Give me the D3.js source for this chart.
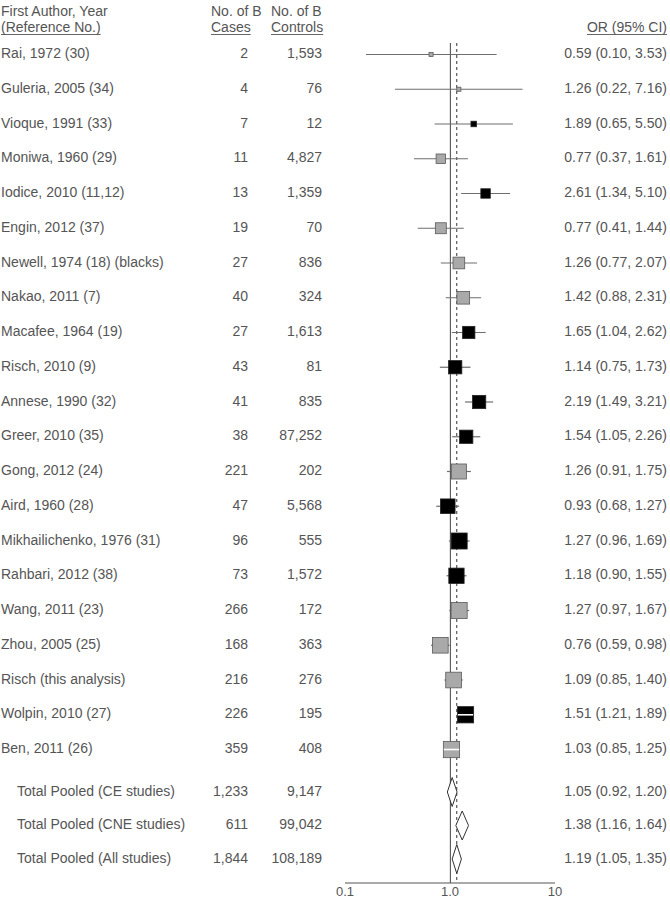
<!DOCTYPE html>
<html><head><meta charset="utf-8">
<script src="https://cdn.jsdelivr.net/npm/d3@7"></script>
<style>body{margin:0;background:#fff}svg{display:block}text{font-family:"Liberation Sans",Arial,sans-serif}</style>
</head><body>
<svg id="c" width="670" height="899"></svg>
<script>
const studies = ["Rai, 1972 (30)","Guleria, 2005 (34)","Vioque, 1991 (33)","Moniwa, 1960 (29)","Iodice, 2010 (11,12)","Engin, 2012 (37)","Newell, 1974 (18) (blacks)","Nakao, 2011 (7)","Macafee, 1964 (19)","Risch, 2010 (9)","Annese, 1990 (32)","Greer, 2010 (35)","Gong, 2012 (24)","Aird, 1960 (28)","Mikhailichenko, 1976 (31)","Rahbari, 2012 (38)","Wang, 2011 (23)","Zhou, 2005 (25)","Risch (this analysis)","Wolpin, 2010 (27)","Ben, 2011 (26)"];
const cases = ["2","4","7","11","13","19","27","40","27","43","41","38","221","47","96","73","266","168","216","226","359"];
const controls = ["1,593","76","12","4,827","1,359","70","836","324","1,613","81","835","87,252","202","5,568","555","1,572","172","363","276","195","408"];
const orVals = [0.59,1.26,1.89,0.77,2.61,0.77,1.26,1.42,1.65,1.14,2.19,1.54,1.26,0.93,1.27,1.18,1.27,0.76,1.09,1.51,1.03];
const ciLow  = [0.10,0.22,0.65,0.37,1.34,0.41,0.77,0.88,1.04,0.75,1.49,1.05,0.91,0.68,0.96,0.90,0.97,0.59,0.85,1.21,0.85];
const ciHigh = [3.53,7.16,5.50,1.61,5.10,1.44,2.07,2.31,2.62,1.73,3.21,2.26,1.75,1.27,1.69,1.55,1.67,0.98,1.40,1.89,1.25];
const studyType = ["CE","CE","CNE","CE","CNE","CE","CE","CE","CNE","CNE","CNE","CNE","CE","CNE","CNE","CNE","CE","CE","CE","CNE","CE"];
const weights = [6,6,11,32,32,43,49,58,54,63,63,63,81,77,92,84,92,88,88,95,95];
const splitRows = ["Wolpin, 2010 (27)","Ben, 2011 (26)"];

const pooledLabels = ["Total Pooled (CE studies)","Total Pooled (CNE studies)","Total Pooled (All studies)"];
const pooledCases = ["1,233","611","1,844"];
const pooledControls = ["9,147","99,042","108,189"];
const pooledOR = [1.05,1.38,1.19];
const pooledLow = [0.92,1.16,1.05];
const pooledHigh = [1.20,1.64,1.35];
const overallOR = 1.19;

const axisTickLabels = ["0.1","1.0","10"];
const fmt = d3.format(".2f");

const svg = d3.select("#c");
const txt = "#555555";
const fs = 14;

const x = d3.scaleLog().domain([0.0564, 17.35]).range([345, 555]);
const y = d3.scaleBand().domain(studies).range([37.1, 766.9]);
const yc = d => y(d) + y.bandwidth()/2;
const yp = d3.scaleBand().domain(pooledLabels).range([775.25, 875.75]);
const ypc = d => yp(d) + yp.bandwidth()/2;
const size = d3.scaleSqrt().domain([0,100]).range([0,16.7]);
const fillFor = d3.scaleOrdinal().domain(["CE","CNE"]).range(["#a9a9a9","#000000"]);
const strokeFor = d3.scaleOrdinal().domain(["CE","CNE"]).range(["#5a5a5a","#222222"]);

const colCasesR = 248, colCtrlR = 322, colORR = 667;
const axisY = 883, topY = 43;

function headerText(tx, ty, s, anchor, underline){
  const t = svg.append("text").attr("x",tx).attr("y",ty).attr("fill",txt).attr("font-size",fs)
    .attr("text-anchor",anchor).text(s);
  if(underline){
    const w = t.node().getComputedTextLength();
    const x0 = anchor==="end" ? tx-w : tx;
    svg.append("line").attr("x1",x0).attr("x2",x0+w).attr("y1",ty+2.5).attr("y2",ty+2.5)
      .attr("stroke",txt).attr("stroke-width",0.9);
  }
}
headerText(1,16,"First Author, Year","start",false);
headerText(1,32,"(Reference No.)","start",true);
headerText(211,16,"No. of B","start",false);
headerText(211,32,"Cases","start",true);
headerText(271,16,"No. of B","start",false);
headerText(271,32,"Controls","start",true);
headerText(colORR,32,"OR (95% CI)","end",true);

svg.append("line").attr("x1",x(1)).attr("x2",x(1)).attr("y1",topY).attr("y2",axisY)
  .attr("stroke","#555").attr("stroke-width",1.1);
svg.append("line").attr("x1",x(overallOR)).attr("x2",x(overallOR)).attr("y1",topY).attr("y2",axisY)
  .attr("stroke","#333").attr("stroke-width",1).attr("stroke-dasharray","3,3");

svg.append("line").attr("x1",x.range()[0]).attr("x2",x.range()[1]).attr("y1",axisY).attr("y2",axisY)
  .attr("stroke","#555").attr("stroke-width",1.1);
const tickPos = d3.scalePoint().domain(axisTickLabels).range(x.range());
svg.selectAll(".tick").data(axisTickLabels).join("text")
  .attr("x",d=>tickPos(d)).attr("y",axisY+10).attr("dominant-baseline","middle")
  .attr("text-anchor","middle").attr("fill",txt).attr("font-size",13).text(d=>d);

const rows = studies.map((s,i)=>({s,i}));
const g = svg.append("g");
g.selectAll(".lab").data(rows).join("text").attr("x",1).attr("y",d=>yc(d.s))
  .attr("dominant-baseline","middle").attr("fill",txt).attr("font-size",fs).text(d=>d.s);
g.selectAll(".cas").data(rows).join("text").attr("x",colCasesR).attr("y",d=>yc(d.s))
  .attr("dominant-baseline","middle").attr("text-anchor","end").attr("fill",txt).attr("font-size",fs).text(d=>cases[d.i]);
g.selectAll(".ctl").data(rows).join("text").attr("x",colCtrlR).attr("y",d=>yc(d.s))
  .attr("dominant-baseline","middle").attr("text-anchor","end").attr("fill",txt).attr("font-size",fs).text(d=>controls[d.i]);
g.selectAll(".orr").data(rows).join("text").attr("x",colORR).attr("y",d=>yc(d.s))
  .attr("dominant-baseline","middle").attr("text-anchor","end").attr("fill",txt).attr("font-size",fs)
  .text(d=>`${fmt(orVals[d.i])} (${fmt(ciLow[d.i])}, ${fmt(ciHigh[d.i])})`);

g.selectAll(".ci").data(rows).join("line")
  .attr("x1",d=>x(ciLow[d.i])).attr("x2",d=>x(ciHigh[d.i]))
  .attr("y1",d=>yc(d.s)).attr("y2",d=>yc(d.s))
  .attr("stroke","#6e6e6e").attr("stroke-width",1.2);
g.selectAll(".sq").data(rows).join("rect")
  .attr("x",d=>x(orVals[d.i])-size(weights[d.i])/2).attr("y",d=>yc(d.s)-size(weights[d.i])/2)
  .attr("width",d=>size(weights[d.i])).attr("height",d=>size(weights[d.i]))
  .attr("fill",d=>fillFor(studyType[d.i])).attr("stroke",d=>strokeFor(studyType[d.i])).attr("stroke-width",0.8);
g.selectAll(".split").data(rows.filter(d=>splitRows.includes(d.s))).join("line")
  .attr("x1",d=>x(orVals[d.i])-size(weights[d.i])/2+0.5).attr("x2",d=>x(orVals[d.i])+size(weights[d.i])/2-0.5)
  .attr("y1",d=>yc(d.s)).attr("y2",d=>yc(d.s)).attr("stroke","#fff").attr("stroke-width",1.6);

const prs = pooledLabels.map((s,i)=>({s,i}));
g.selectAll(".plab").data(prs).join("text").attr("x",17).attr("y",d=>ypc(d.s))
  .attr("dominant-baseline","middle").attr("fill",txt).attr("font-size",fs).text(d=>d.s);
g.selectAll(".pcas").data(prs).join("text").attr("x",colCasesR).attr("y",d=>ypc(d.s))
  .attr("dominant-baseline","middle").attr("text-anchor","end").attr("fill",txt).attr("font-size",fs).text(d=>pooledCases[d.i]);
g.selectAll(".pctl").data(prs).join("text").attr("x",colCtrlR).attr("y",d=>ypc(d.s))
  .attr("dominant-baseline","middle").attr("text-anchor","end").attr("fill",txt).attr("font-size",fs).text(d=>pooledControls[d.i]);
g.selectAll(".por").data(prs).join("text").attr("x",colORR).attr("y",d=>ypc(d.s))
  .attr("dominant-baseline","middle").attr("text-anchor","end").attr("fill",txt).attr("font-size",fs)
  .text(d=>`${fmt(pooledOR[d.i])} (${fmt(pooledLow[d.i])}, ${fmt(pooledHigh[d.i])})`);
const dh = 14.5;
g.selectAll(".dia").data(prs).join("path")
  .attr("d",d=>{const c=ypc(d.s);return `M${x(pooledLow[d.i])},${c}L${x(pooledOR[d.i])},${c-dh}L${x(pooledHigh[d.i])},${c}L${x(pooledOR[d.i])},${c+dh}Z`;})
  .attr("fill","#fff").attr("stroke","#333").attr("stroke-width",1);
</script>
</body></html>
